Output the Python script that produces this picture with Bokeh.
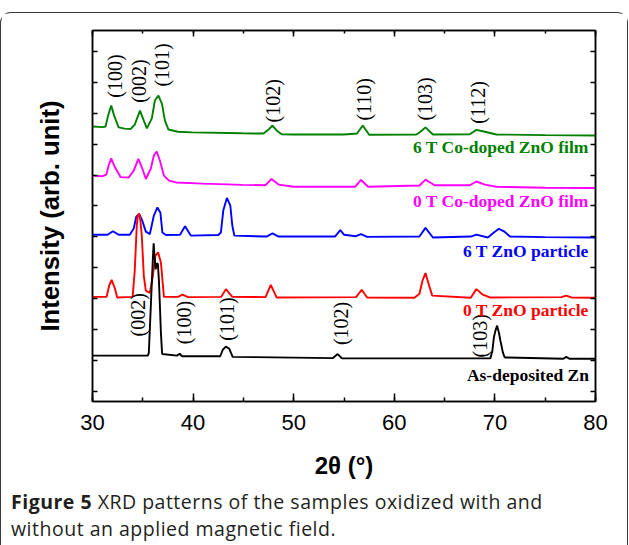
import math
from bokeh.plotting import figure
from bokeh.layouts import column
from bokeh.models import (Range1d, LinearAxis, SingleIntervalTicker, FixedTicker, Div,
                          CustomLabelingPolicy)
from bokeh.core.properties import value
from bokeh.embed import file_html
from bokeh.resources import INLINE

# ---------------- data (2theta in degrees, intensity in arb. units, offset stacked) ----------------
green_theta = [30.0, 31.0, 31.3, 31.55, 31.86, 32.15, 32.6, 33.2, 33.8, 34.2, 34.72, 35.1, 35.4, 35.9,
               36.2, 36.55, 36.9, 37.2, 37.55, 38.5, 39.9, 44.9, 47.0, 47.5, 47.89, 48.3, 48.8, 50.0,
               55.0, 56.3, 56.86, 57.5, 62.2, 62.6, 63.1, 63.84, 67.5, 68.16, 69.0, 70.15, 75.0, 80.0]
green_int = [8.57, 8.55, 8.57, 8.92, 9.25, 8.92, 8.54, 8.50, 8.49, 8.63, 9.08, 8.76, 8.51, 8.83,
             9.41, 9.57, 9.31, 8.76, 8.47, 8.40, 8.38, 8.35, 8.34, 8.47, 8.60, 8.44, 8.32, 8.31,
             8.31, 8.34, 8.60, 8.30, 8.31, 8.40, 8.54, 8.31, 8.32, 8.46, 8.40, 8.31, 8.29, 8.28]

magenta_theta = [30.0, 31.0, 31.37, 31.6, 31.86, 32.2, 32.8, 33.6, 34.1, 34.56, 34.95, 35.3, 35.8,
                 36.1, 36.38, 36.7, 37.1, 37.6, 38.3, 41.0, 44.9, 47.2, 47.79, 48.5, 50.0, 56.1,
                 56.69, 57.4, 62.5, 63.1, 64.0, 67.5, 68.16, 69.0, 70.15, 75.0, 80.0]
magenta_int = [6.98, 6.96, 7.01, 7.30, 7.54, 7.27, 6.93, 6.92, 7.14, 7.52, 7.21, 6.87, 7.21,
               7.63, 7.76, 7.47, 6.98, 6.82, 6.76, 6.72, 6.68, 6.67, 6.87, 6.69, 6.62, 6.62,
               6.84, 6.62, 6.66, 6.85, 6.67, 6.67, 6.79, 6.69, 6.62, 6.59, 6.58]

blue_theta = [30.0, 31.5, 32.03, 32.6, 33.7, 34.1, 34.35, 34.63, 34.95, 35.3, 35.7, 36.1, 36.45,
              36.75, 36.95, 37.3, 38.7, 39.2, 39.77, 42.5, 42.76, 43.0, 43.36, 43.7, 43.9, 44.1,
              47.3, 47.89, 48.5, 54.1, 54.63, 55.0, 56.2, 56.69, 57.3, 62.5, 63.1, 63.84, 67.6,
              68.16, 69.3, 69.9, 70.4, 70.9, 71.5, 75.0, 80.0]
blue_int = [5.07, 5.07, 5.18, 5.07, 5.07, 5.27, 5.65, 5.74, 5.52, 5.17, 5.09, 5.69, 5.95,
            5.78, 5.14, 5.06, 5.07, 5.34, 5.04, 5.06, 5.14, 5.85, 6.26, 6.01, 5.36, 5.04,
            5.01, 5.11, 5.01, 5.01, 5.22, 5.07, 5.02, 5.09, 5.00, 5.01, 5.29, 4.98, 5.01,
            5.07, 4.98, 5.14, 5.26, 5.18, 5.01, 4.99, 4.98]

red_theta = [30.0, 31.4, 31.65, 31.9, 32.2, 32.46, 33.99, 34.2, 34.4, 34.5, 34.63, 34.75, 34.9,
             35.1, 35.3, 35.7, 36.0, 36.25, 36.52, 36.8, 37.1, 38.5, 38.94, 39.5, 42.8, 43.26,
             43.9, 47.2, 47.72, 48.3, 56.2, 56.76, 57.3, 62.0, 62.5, 62.8, 63.1, 63.4, 63.77,
             67.6, 68.16, 68.8, 69.5, 76.6, 77.1, 77.6, 80.0]
red_int = [3.06, 3.06, 3.42, 3.61, 3.36, 3.04, 3.06, 3.91, 5.36, 5.68, 5.76, 5.55, 5.04,
           3.74, 3.26, 3.19, 3.74, 4.39, 4.50, 4.17, 3.06, 3.06, 3.13, 3.05, 3.06, 3.31,
           3.06, 3.05, 3.45, 3.04, 3.05, 3.29, 3.04, 3.03, 3.16, 3.58, 3.83, 3.49, 3.10,
           3.03, 3.31, 3.13, 3.04, 3.05, 3.10, 3.04, 3.03]

black_theta = [30.0, 35.5, 35.6, 35.82, 36.0, 36.08, 36.18, 36.28, 36.4, 36.5, 36.6, 36.68, 36.8,
               36.92, 38.4, 38.67, 38.9, 42.7, 42.95, 43.26, 43.6, 43.93, 53.9, 54.37, 54.8,
               69.55, 69.75, 69.9, 70.05, 70.22, 70.4, 70.55, 70.8, 70.98, 76.8, 77.1, 77.4, 80.0]
black_int = [1.16, 1.16, 1.25, 2.94, 4.30, 4.79, 4.30, 3.95, 4.15, 4.12, 3.60, 2.94, 1.90,
             1.21, 1.16, 1.22, 1.14, 1.14, 1.35, 1.45, 1.38, 1.12, 1.08, 1.21, 1.07,
             1.07, 1.32, 1.75, 1.96, 2.13, 1.90, 1.64, 1.25, 1.10, 1.06, 1.12, 1.06, 1.06]

# peak (hkl) labels
zno_hkl = ["(100)", "(002)", "(101)", "(102)", "(110)", "(103)", "(112)"]
zno_hkl_x = [32.28, 34.59, 36.87, 47.92, 57.02, 63.05, 68.32]
zno_hkl_y = [9.50, 9.34, 9.86, 8.70, 8.76, 8.76, 8.66]

zn_hkl = ["(002)", "(100)", "(101)", "(102)", "(103)"]
zn_hkl_x = [34.56, 39.07, 43.40, 54.73, 68.49]
zn_hkl_y = [1.78, 1.53, 1.64, 1.50, 1.10]

# series names
series_names = ["6 T Co-doped ZnO film", "0 T Co-doped ZnO film", "6 T ZnO particle",
                "0 T ZnO particle", "As-deposited Zn"]
series_colors = ["#008000", "#ff00ff", "#0000ff", "#ff0000", "#000000"]
series_name_y = [7.89, 6.15, 4.55, 2.63, 0.53]
series_name_x = [79.35] * 5

x_ticks_interval = 10
y_ticks = list(range(0, 12))

caption_bold = "Figure 5"
caption_rest = "XRD patterns of the samples oxidized with and"
caption_line2 = "without an applied magnetic field."

# ---------------- figure ----------------
no_labels = CustomLabelingPolicy(code="for (const i of indices) { indices.unset(i) }\nreturn indices")

p = figure(width=626, height=470, x_range=Range1d(30, 80), y_range=Range1d(-0.324, 11.673),
           output_backend="svg", toolbar_location=None,
           min_border_left=91, min_border_right=32, min_border_top=17, min_border_bottom=82)
p.xgrid.visible = False
p.ygrid.visible = False
p.outline_line_color = "black"
p.outline_line_width = 1.5
p.background_fill_color = "white"
p.border_fill_color = "white"

xa = p.xaxis[0]
xa.ticker = SingleIntervalTicker(interval=x_ticks_interval, num_minor_ticks=2)
xa.major_tick_in = 8
xa.major_tick_out = 0
xa.minor_tick_in = 4
xa.minor_tick_out = 0
xa.axis_line_width = 1.5
xa.major_tick_line_width = 1.5
xa.minor_tick_line_width = 1.5
xa.major_label_text_font = "Liberation Sans"
xa.major_label_text_font_size = "22px"
xa.major_label_text_color = "black"
xa.major_label_standoff = 13
xa.axis_label = "2θ (°)"
xa.axis_label_text_font = "Liberation Sans"
xa.axis_label_text_font_size = "24px"
xa.axis_label_text_font_style = "bold"
xa.axis_label_text_color = "black"
xa.axis_label_standoff = 19

ya = p.yaxis[0]
ya.ticker = FixedTicker(ticks=y_ticks)
ya.major_tick_in = 5
ya.major_tick_out = 0
ya.minor_tick_in = 0
ya.minor_tick_out = 0
ya.axis_line_width = 1.5
ya.major_tick_line_width = 1.5
ya.major_label_text_font_size = "1px"
ya.major_label_standoff = 0
ya.major_label_policy = no_labels
ya.axis_label = "Intensity (arb. unit)"
ya.axis_label_text_font = "Liberation Sans"
ya.axis_label_text_font_size = "25.7px"
ya.axis_label_text_font_style = "bold"
ya.axis_label_text_color = "black"
ya.axis_label_standoff = 24

top = LinearAxis(ticker=SingleIntervalTicker(interval=x_ticks_interval, num_minor_ticks=2),
                 major_tick_in=6, major_tick_out=0, minor_tick_in=3, minor_tick_out=0,
                 major_label_text_font_size="1px", major_label_standoff=0,
                 major_label_policy=no_labels,
                 axis_line_width=1.5, major_tick_line_width=1.5, minor_tick_line_width=1.5)
p.add_layout(top, "above")
right = LinearAxis(ticker=FixedTicker(ticks=y_ticks),
                   major_tick_in=5, major_tick_out=0, minor_tick_in=0, minor_tick_out=0,
                   major_label_text_font_size="1px", major_label_standoff=0,
                   major_label_policy=no_labels,
                   axis_line_width=1.5, major_tick_line_width=1.5)
p.add_layout(right, "right")

# ---------------- curves ----------------
curves = [(green_theta, green_int), (magenta_theta, magenta_int), (blue_theta, blue_int),
          (red_theta, red_int), (black_theta, black_int)]
for (tx, iy), col in zip(curves, series_colors):
    p.line(tx, iy, line_color=col, line_width=1.9)

# ---------------- peak labels ----------------
p.text(x=zno_hkl_x, y=zno_hkl_y, text=zno_hkl, angle=math.pi / 2,
       text_align="left", text_baseline="middle",
       text_font=value("Liberation Serif"), text_font_size="20px", text_color="black")
p.text(x=zn_hkl_x, y=zn_hkl_y, text=zn_hkl, angle=math.pi / 2,
       text_align="left", text_baseline="middle",
       text_font=value("Liberation Serif"), text_font_size="20px", text_color="black")

p.text(x=series_name_x, y=series_name_y, text=series_names, text_color=series_colors,
       text_align="right", text_baseline="middle",
       text_font=value("Liberation Serif"), text_font_size="17.5px", text_font_style="bold")

# ---------------- caption (HTML text below the chart) ----------------
caption_html = (
    '<div style="font-family:\'Open Sans\',sans-serif;font-size:19.5px;line-height:26.5px;'
    'letter-spacing:0.5px;color:#231f20;padding:6px 0 0 10px;white-space:nowrap;">'
    f'<b>{caption_bold}</b> {caption_rest}<br>{caption_line2}</div>'
)
cap = Div(text=caption_html, width=626, height=62, margin=(0, 0, 0, 0))

layout = column(p, cap, spacing=0,
                styles={"margin-top": "12px",
                        "border-top": "1.5px solid #3a3a3a",
                        "border-left": "1.5px solid #3a3a3a",
                        "border-right": "1.5px solid #3a3a3a",
                        "border-top-left-radius": "11px",
                        "border-top-right-radius": "11px"})

open("out.html", "w").write(file_html(layout, INLINE))
